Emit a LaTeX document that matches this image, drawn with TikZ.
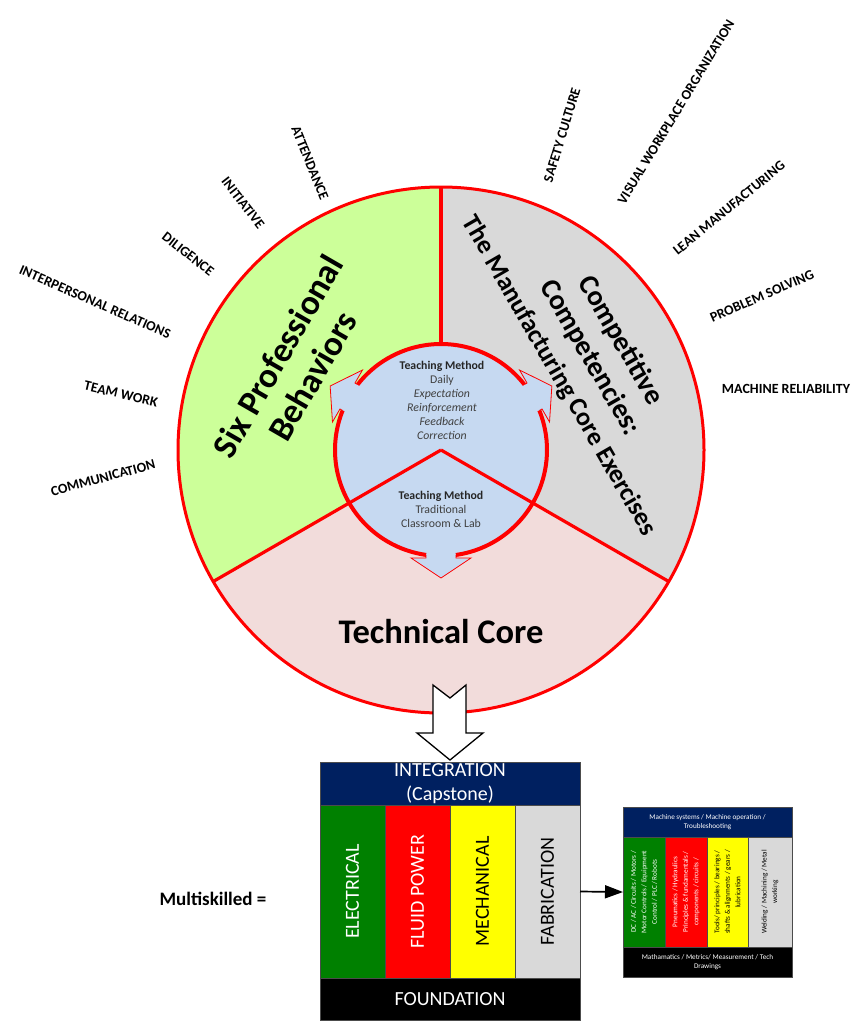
\documentclass[tikz,border=0pt]{standalone}
\usepackage{fontspec}
\setmainfont{Carlito}
\usetikzlibrary{arrows.meta}
\definecolor{sixgreen}{HTML}{CCFF99}
\definecolor{compgray}{HTML}{D9D9D9}
\definecolor{techpink}{HTML}{F2DCDB}
\definecolor{tblue}{HTML}{C6D9F1}
\definecolor{ringred}{HTML}{FF0000}
\definecolor{navyband}{HTML}{002060}
\definecolor{colgreen}{HTML}{008000}
\definecolor{colred}{HTML}{FF0000}
\definecolor{colyellow}{HTML}{FFFF00}
\definecolor{colgray}{HTML}{D9D9D9}
\definecolor{tmtext}{HTML}{262626}
\definecolor{tmsub}{HTML}{404040}
\begin{document}
\begin{tikzpicture}[x=1pt,y=1pt,
  lbl/.style={font=\bfseries\fontsize{14}{16}\selectfont, inner sep=0},
  bigtxt/.style={font=\bfseries\fontsize{35}{40}\selectfont, align=center, inner sep=0},
  comptxt/.style={font=\bfseries\fontsize{28.5}{35}\selectfont, align=center, inner sep=0},
  tmtxt/.style={font=\fontsize{11.8}{14}\selectfont, align=center, inner sep=0, text=tmsub},
  redline/.style={draw=ringred, line width=3.2pt},
  band/.style={inner sep=0, outer sep=0, anchor=north west, draw=black!70, line width=0.5pt},
  coltxt/.style={rotate=90, font=\fontsize{20}{24}\selectfont, inner sep=0},
  stxt/.style={font=\fontsize{7.2}{8.6}\selectfont, align=center, inner sep=0},
  srot/.style={rotate=90, font=\fontsize{7.2}{10.5}\selectfont, align=center, inner sep=0}]
\useasboundingbox (0,0) rectangle (866,-1026);
\coordinate (C) at (441,-450);
\def\R{263}
% sectors
\fill[sixgreen] (C) -- +(90:\R) arc[start angle=90,end angle=210,radius=\R] -- cycle;
\fill[compgray] (C) -- +(-30:\R) arc[start angle=-30,end angle=90,radius=\R] -- cycle;
\fill[techpink] (C) -- +(210:\R) arc[start angle=210,end angle=330,radius=\R] -- cycle;
% inner arrows
\foreach \a in {30,150,270}{
  \begin{scope}[shift={(C)}, rotate=\a]
    \filldraw[fill=tblue, draw=ringred, line width=0.8pt] (90,-15) -- (108,-15) -- (108,-30) -- (128,0) -- (108,30) -- (108,15) -- (90,15) -- cycle;
  \end{scope}}
\fill[tblue] (C) circle[radius=106];
% dividers
\draw[redline] ([shift={(90:106)}]C) -- ([shift={(90:\R)}]C);
\draw[redline] (C) -- ([shift={(210:\R)}]C);
\draw[redline] (C) -- ([shift={(330:\R)}]C);
% inner ring
\foreach \s/\e in {38.1/141.9, 158.1/261.9, 278.1/381.9}
  \draw[ringred, line width=4pt] ([shift={(\s:106)}]C) arc[start angle=\s, end angle=\e, radius=106];
% outer circle
\draw[ringred, line width=3pt] (C) circle[radius=\R];
% sector titles
\node[bigtxt, rotate=60] (spb) at (295,-366) {Six Professional\\Behaviors};
\node[comptxt, rotate=-60] (cc) at (590,-358) {Competitive\\Competencies:\\\fontsize{26}{33}\selectfont The Manufacturing Core Exercises};
\node[font=\bfseries\fontsize{34.5}{40}\selectfont, inner sep=0] (tc) at (441,-632) {Technical Core};
% teaching method texts
\node[tmtxt] (tm1) at (442,-400) {{\bfseries\color{tmtext}Teaching Method}\\Daily\\\itshape Expectation\\\itshape Reinforcement\\\itshape Feedback\\\itshape Correction};
\node[tmtxt] (tm2) at (441,-509) {{\bfseries\color{tmtext}Teaching Method}\\Traditional\\Classroom \& Lab};
% outer labels
\node[lbl, rotate=15] (l1) at (103,-478) {COMMUNICATION};
\node[lbl, rotate=-13] (l2) at (121,-394) {TEAM WORK};
\node[lbl, rotate=-23.6] (l3) at (95,-302) {INTERPERSONAL RELATIONS};
\node[lbl, rotate=-38] (l4) at (188,-254) {DILIGENCE};
\node[lbl, rotate=-52] (l5) at (243,-203) {INITIATIVE};
\node[lbl, rotate=-68] (l6) at (310,-163) {ATTENDANCE};
\node[lbl, rotate=73] (r1) at (562,-135) {SAFETY CULTURE};
\node[lbl, rotate=58.8] (r2) at (676,-112) {VISUAL WORKPLACE ORGANIZATION};
\node[lbl, rotate=39.4] (r3) at (729,-208) {LEAN MANUFACTURING};
\node[lbl, rotate=23.4] (r4) at (762,-296) {PROBLEM SOLVING};
\node[lbl] (r5) at (786,-389) {MACHINE RELIABILITY};
% big block arrow
\filldraw[fill=white, draw=black, line width=1.3pt, line join=miter]
  (433,-685) -- (450,-698) -- (466,-685) -- (466,-733) -- (483,-733) -- (450,-760) -- (417,-733) -- (433,-733) -- cycle;
% main box
\node[band, fill=navyband, minimum width=260pt, minimum height=43pt] (integ) at (320,-762) {};
\node[text=white, font=\fontsize{20}{24}\selectfont, align=center, inner sep=0] (integt) at (450,-784) {INTEGRATION\\(Capstone)};
\node[band, fill=colgreen, minimum width=65pt, minimum height=173pt] (elec) at (320,-805) {};
\node[band, fill=colred, minimum width=65pt, minimum height=173pt] (fluid) at (385,-805) {};
\node[band, fill=colyellow, minimum width=65pt, minimum height=173pt] (mech) at (450,-805) {};
\node[band, fill=colgray, minimum width=65pt, minimum height=173pt] (fab) at (515,-805) {};
\node[band, fill=black, minimum width=260pt, minimum height=42pt] (found) at (320,-978) {};
\node[coltxt, text=white] (elect) at (elec.center) {ELECTRICAL};
\node[coltxt, text=white] (fluidt) at (fluid.center) {FLUID POWER};
\node[coltxt, text=black] (mecht) at (mech.center) {MECHANICAL};
\node[coltxt, text=black] (fabt) at (fab.center) {FABRICATION};
\node[text=white, font=\fontsize{20}{24}\selectfont, inner sep=0] (foundt) at (found.center) {FOUNDATION};
\node[font=\bfseries\fontsize{19}{22}\selectfont, inner sep=0] (multi) at (213,-899) {Multiskilled =};
% small box
\node[band, fill=navyband, minimum width=169pt, minimum height=30pt] (sint) at (623,-807) {};
\node[stxt, text=white] (sintt) at (sint.center) {Machine systems / Machine operation /\\Troubleshooting};
\node[band, fill=colgreen, minimum width=42pt, minimum height=110pt] (sgreen) at (623,-837) {};
\node[band, fill=colred, minimum width=42pt, minimum height=110pt] (sred) at (665,-837) {};
\node[band, fill=colyellow, minimum width=41pt, minimum height=110pt] (syel) at (707,-837) {};
\node[band, fill=colgray, minimum width=44pt, minimum height=110pt] (sgray) at (748,-837) {};
\node[band, fill=black, minimum width=169pt, minimum height=30pt] (sfound) at (623,-947) {};
\node[srot, text=white] (sgt) at (sgreen.center) {DC / AC / Circuits / Motors /\\Motor Controls / Equipment\\Control / PLC / Robots};
\node[srot, text=white] (srt) at (sred.center) {Pneumatics / Hydraulics\\Principles \& fundamentals /\\components / circuits /};
\node[srot, text=black] (syt) at (syel.center) {Tools/ principles / bearings /\\shafts \& alignments / gears /\\lubrication};
\node[srot, text=black] (sgrt) at (sgray.center) {Welding / Machining / Metal\\working};
\node[stxt, text=white] (sft) at (sfound.center) {Mathamatics / Metrics/ Measurement / Tech\\Drawings};
% connector
\draw[line width=1.7pt, -{Triangle[length=18pt,width=13pt]}] (fab.east) -- (sgreen.west);
\end{tikzpicture}
\end{document}
